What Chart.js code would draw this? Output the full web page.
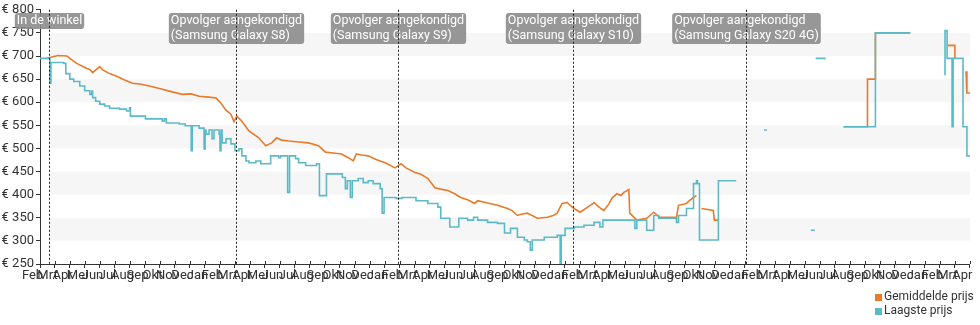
<!DOCTYPE html>
<html>
<head>
<meta charset="utf-8">
<script src="https://cdn.jsdelivr.net/npm/chart.js@4.4.1/dist/chart.umd.min.js"></script>
<style>
  body { margin: 0; background: #fff; }
  #wrap { width: 980px; height: 325px; }
</style>
</head>
<body>
<div id="wrap"><canvas id="priceChart" width="980" height="325"></canvas></div>
<script>
// x values are months counted from 1 March 2016
const monthNames = ['Jan', 'Feb', 'Mrt', 'Apr', 'Mei', 'Jun', 'Jul', 'Aug', 'Sep', 'Okt', 'Nov', 'Dec'];
const priceTicks = [250, 300, 350, 400, 450, 500, 550, 600, 650, 700, 750, 800];
const bandRanges = [[300, 350], [400, 450], [500, 550], [600, 650], [700, 750]];

const events = [
    { month: 0.6, text: ['In de winkel'] },
    { month: 13.1, text: ['Opvolger aangekondigd', '(Samsung Galaxy S8)'] },
    { month: 23.9, text: ['Opvolger aangekondigd', '(Samsung Galaxy S9)'] },
    { month: 35.55, text: ['Opvolger aangekondigd', '(Samsung Galaxy S10)'] },
    { month: 47.1, text: ['Opvolger aangekondigd', '(Samsung Galaxy S20 4G)'] }
];

const avgPrice = [
    [0.46, 695], [1.19, 701], [1.79, 700], [2.19, 690], [2.45, 684], [3.12, 673], [3.32, 671],
    [3.51, 664], [3.98, 677], [4.18, 670], [4.64, 662], [5.11, 656], [5.64, 648], [6.17, 641],
    [6.76, 639], [7.29, 635], [8.16, 628], [8.62, 624], [9.48, 617], [10.08, 618], [10.61, 613],
    [11.27, 611], [11.74, 609], [12.07, 598], [12.4, 583], [12.73, 574], [12.93, 558], [13.13, 570],
    [13.46, 559], [13.93, 538], [14.59, 523], [15.05, 506], [15.45, 512], [15.78, 523], [16.11, 518],
    [16.58, 516], [17.24, 514], [17.9, 512], [18.57, 506], [19.03, 492], [19.56, 490], [20.09, 488],
    [20.56, 480], [20.89, 473], [21.09, 488], [21.42, 486], [21.88, 484], [22.41, 476], [23.01, 469],
    [23.67, 458], [24.07, 467], [24.4, 458], [25.0, 448], [25.4, 444], [25.86, 435], [26.33, 415],
    [26.72, 412], [27.19, 409], [27.65, 402], [28.05, 394], [28.51, 389], [28.98, 381], [29.18, 387],
    [29.84, 382], [30.5, 377], [31.17, 370], [31.5, 365], [31.83, 355], [32.16, 358], [32.49, 360],
    [33.16, 349], [33.82, 351], [34.22, 355], [34.48, 360], [34.81, 381], [35.15, 383], [35.41, 375],
    [35.61, 370], [36.01, 362], [36.47, 372], [36.74, 378], [36.94, 383], [37.14, 377], [37.4, 370],
    [37.6, 366], [37.93, 380], [38.13, 392], [38.46, 402], [38.73, 398], [38.93, 405], [39.26, 411],
    [39.32, 360], [39.79, 345], [40.45, 349], [40.92, 362], [41.31, 351], [42.44, 351], [42.57, 377],
    [43.1, 381], [43.3, 387], [43.57, 394], [43.77, 398], [43.9, null],
    [44.1, 370], [44.89, 366], [44.96, 345], [45.23, 345], [45.4, null],
    [53.58, 547], [55.17, 547], [55.17, 650], [55.7, 650], [55.7, 750], [58.02, 750], [58.2, null],
    [60.48, 723], [61.0, 723], [61.0, 695], [61.1, null],
    [61.74, 667], [61.8, 620], [62.0, 620]
];

const lowPrice = [
    [0, 695], [0.66, 641], [0.73, 686], [1.59, 684], [1.72, 662], [1.99, 650], [2.25, 645],
    [2.65, 635], [2.98, 625], [3.32, 617], [3.45, 624], [3.51, 610], [3.71, 602], [3.98, 596],
    [4.31, 592], [4.64, 587], [5.31, 585], [5.77, 581], [5.97, 588], [6.03, 570], [6.76, 570],
    [7.03, 564], [7.9, 564], [8.16, 559], [8.29, 564], [8.42, 555], [9.28, 553], [9.68, 549],
    [10.08, 495], [10.15, 549], [10.61, 544], [10.94, 499], [11.01, 540], [11.07, 531], [11.27, 540],
    [11.47, 521], [11.6, 540], [11.94, 531], [12.0, 495], [12.07, 540], [12.14, 512], [12.4, 521],
    [12.73, 510], [13.0, 495], [13.26, 499], [13.46, 484], [13.73, 473], [13.93, 469], [14.39, 473],
    [14.72, 467], [15.38, 484], [15.92, 480], [16.05, 484], [16.45, 484], [16.51, 405], [16.64, 484],
    [17.04, 478], [17.24, 469], [17.71, 463], [18.24, 463], [18.44, 467], [18.63, 398], [19.1, 445],
    [20.16, 437], [20.36, 413], [20.49, 430], [20.69, 394], [20.82, 430], [21.22, 435], [21.55, 426],
    [21.88, 430], [22.21, 424], [22.55, 424], [22.68, 413], [22.81, 360], [22.94, 394], [23.74, 392],
    [24.14, 394], [25.0, 394], [25.07, 387], [25.86, 381], [26.53, 373], [26.72, 349], [27.32, 330],
    [27.92, 349], [28.51, 345], [28.91, 351], [29.18, 345], [29.84, 340], [30.5, 338], [30.97, 317],
    [31.37, 327], [31.83, 308], [32.29, 302], [32.49, 298], [32.69, 280], [32.82, 302], [33.62, 308],
    [34.48, 312], [34.68, 252], [34.75, 312], [35.01, 327], [35.61, 330], [36.27, 334], [36.94, 340],
    [37.33, 330], [37.53, 345], [39.59, 345], [39.66, 327], [39.79, 345], [40.45, 323], [40.92, 355],
    [41.25, 349], [42.44, 340], [42.57, 355], [43.1, 370], [43.57, 424], [43.77, 430], [43.83, 424],
    [43.97, 302], [45.23, 430], [46.42, 430], [46.6, null],
    [48.28, 540], [48.47, 540], [48.6, null],
    [51.39, 323], [51.66, 323], [51.7, null],
    [51.72, 695], [52.39, 695], [52.5, null],
    [53.58, 547], [55.7, 750], [58.02, 750], [58.2, null],
    [60.28, 660], [60.34, 755], [60.48, 695], [60.81, 547], [60.88, 695], [61.54, 547],
    [61.8, 484], [62.0, 484]
];

const orange = '#e97a2a';
const teal = '#5cbac6';

const extras = {
    id: 'extras',
    beforeDatasetsDraw(chart) {
        const { ctx, chartArea, scales } = chart;
        const startX = scales.x.getPixelForValue(events[0].month);
        ctx.save();
        ctx.fillStyle = '#f6f6f6';
        bandRanges.forEach(r => {
            const top = scales.y.getPixelForValue(r[1]);
            const bottom = scales.y.getPixelForValue(r[0]);
            ctx.fillRect(startX, top, chartArea.right - startX, bottom - top);
        });
        ctx.restore();
    },
    afterDraw(chart) {
        const { ctx, chartArea, scales } = chart;
        ctx.save();
        // little tick marks above the x axis line
        ctx.strokeStyle = '#333';
        ctx.lineWidth = 1;
        for (let m = 0; m <= 62; m++) {
            const x = Math.round(scales.x.getPixelForValue(m)) + 0.5;
            ctx.beginPath();
            ctx.moveTo(x, chartArea.bottom - 3);
            ctx.lineTo(x, chartArea.bottom);
            ctx.stroke();
        }
        // event labels and dotted lines
        ctx.font = '12.5px Roboto';
        ctx.textBaseline = 'middle';
        events.forEach(ev => {
            const x = Math.round(scales.x.getPixelForValue(ev.month)) + 0.5;
            const w = Math.max(...ev.text.map(t => ctx.measureText(t).width)) + 4;
            const h = ev.text.length * 15 + 1;
            ctx.fillStyle = 'rgba(140,140,140,0.9)';
            ctx.beginPath();
            ctx.roundRect(x - w / 2, 13, w, h, 3);
            ctx.fill();
            ctx.fillStyle = '#fff';
            ctx.textAlign = 'left';
            ev.text.forEach((t, i) => ctx.fillText(t, x - w / 2 + 2, 20.5 + i * 15));
            ctx.strokeStyle = '#222';
            ctx.setLineDash([2, 2]);
            ctx.beginPath();
            ctx.moveTo(x, chartArea.top);
            ctx.lineTo(x, chartArea.bottom);
            ctx.stroke();
            ctx.setLineDash([]);
        });
        // legend
        const items = [['Gemiddelde prijs', orange], ['Laagste prijs', teal]];
        ctx.font = '12px Roboto';
        items.forEach((it, i) => {
            const y = 297 + i * 14;
            ctx.fillStyle = it[1];
            ctx.fillRect(875, y - 3, 7, 7);
            ctx.fillStyle = '#333';
            ctx.fillText(it[0], 884, y);
        });
        ctx.restore();
    }
};

new Chart(document.getElementById('priceChart'), {
    type: 'line',
    data: {
        datasets: [
            {
                label: 'Gemiddelde prijs',
                data: avgPrice,
                borderColor: orange,
                backgroundColor: orange,
                borderWidth: 1.6,
                pointRadius: 0,
                spanGaps: false,
                order: 2
            },
            {
                label: 'Laagste prijs',
                data: lowPrice,
                borderColor: teal,
                backgroundColor: teal,
                borderWidth: 1.6,
                pointRadius: 0,
                stepped: true,
                spanGaps: false,
                order: 1
            }
        ]
    },
    plugins: [extras],
    options: {
        responsive: false,
        animation: false,
        devicePixelRatio: 1,
        layout: { padding: { top: 8, right: 5, bottom: 0, left: 0 } },
        plugins: { legend: { display: false }, tooltip: { enabled: false } },
        scales: {
            x: {
                type: 'linear',
                min: 0,
                max: 62,
                afterFit: s => { s.height = 61; },
                grid: { drawOnChartArea: false, tickLength: 4, color: '#333' },
                border: { color: '#333', width: 1 },
                ticks: {
                    stepSize: 1,
                    maxTicksLimit: 100,
                    autoSkip: false,
                    maxRotation: 0,
                    labelOffset: -7.5,
                    padding: 0,
                    color: '#333',
                    font: { family: 'Roboto', size: 13 },
                    callback: v => monthNames[(v + 1) % 12]
                }
            },
            y: {
                min: 250,
                max: 800,
                afterFit: s => { s.width = 40; },
                afterBuildTicks: s => { s.ticks = priceTicks.map(v => ({ value: v })); },
                grid: { drawOnChartArea: false, tickLength: 4, color: '#333' },
                border: { color: '#333', width: 1 },
                ticks: {
                    padding: 2,
                    color: '#333',
                    font: { family: 'Roboto', size: 13 },
                    callback: v => '€ ' + v
                }
            }
        }
    }
});
</script>
</body>
</html>
